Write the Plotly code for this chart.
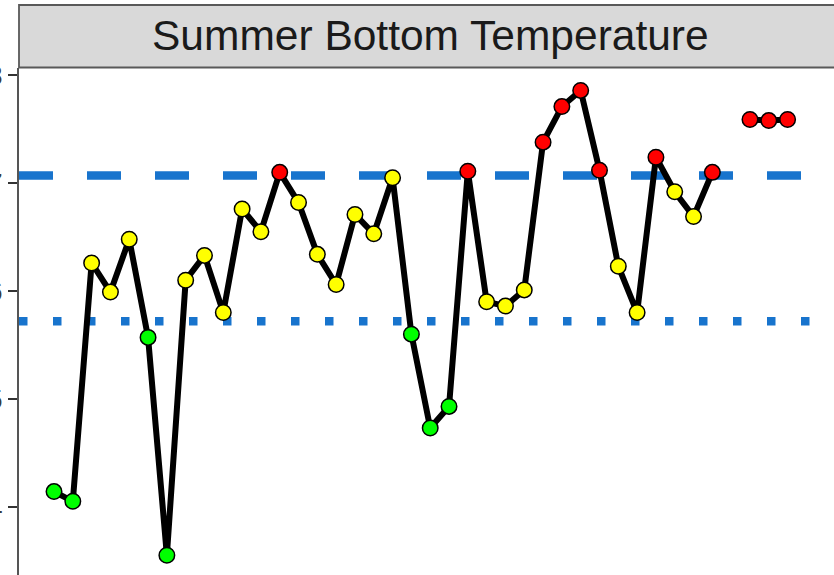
import plotly.graph_objects as go

# ---- data ----
years = list(range(1984, 2024))
temps = [4.14, 4.05, 6.26, 5.99, 6.48, 5.57, 3.55, 6.10, 6.33, 5.80,
         6.76, 6.55, 7.10, 6.82, 6.34, 6.06, 6.71, 6.53, 7.05, 5.60,
         4.73, 4.93, 7.11, 5.90, 5.86, 6.01, 7.38, 7.71, 7.86, 7.12,
         6.23, 5.80, 7.24, 6.92, 6.69, 7.10, None, 7.59, 7.58, 7.59]
upper_ref = 7.07   # dashed line
lower_ref = 5.72   # dotted line
ytick_vals = [4, 5, 6, 7, 8]
ytick_text = ["4", "5", "6", "7", "8"]
strip_title = "Summer Bottom Temperature"

HIGH_COL, MID_COL, LOW_COL = "#FF0000", "#FFFF00", "#00FF00"


def colour(v):
    if v is None:
        return MID_COL
    if v > upper_ref:
        return HIGH_COL
    if v < lower_ref:
        return LOW_COL
    return MID_COL


marker_cols = [colour(v) for v in temps]

W, H = 834, 575
ML, MT = 19, 68
plot_h = H - MT

fig = go.Figure()
fig.add_trace(go.Scatter(
    x=years, y=temps, mode="lines+markers", connectgaps=False,
    line=dict(color="black", width=6),
    marker=dict(size=15.5, color=marker_cols, line=dict(color="black", width=1.5)),
    showlegend=False, hoverinfo="x+y",
))

# reference lines
fig.add_shape(type="line", xref="paper", x0=0, x1=1, yref="y", y0=upper_ref, y1=upper_ref,
              line=dict(color="#1874CD", width=8.5, dash="34px,34px"), layer="below")
fig.add_shape(type="line", xref="paper", x0=0, x1=1, yref="y", y0=lower_ref, y1=lower_ref,
              line=dict(color="#1874CD", width=8.5, dash="8.5px,25.5px"), layer="below")

# facet strip
fig.add_shape(type="rect", xref="paper", yref="paper",
              x0=0, x1=1.05, y0=1 + (MT - 67.5) / plot_h, y1=1 + (MT - 5) / plot_h,
              fillcolor="#D9D9D9", line=dict(color="#595959", width=1.8))
fig.add_annotation(text=strip_title, xref="paper", yref="paper",
                   x=(430 - ML) / (W - ML), y=1 + (MT - 35.5) / plot_h,
                   xanchor="center", yanchor="middle", showarrow=False,
                   font=dict(family="Liberation Sans, Arial, sans-serif", size=42.5, color="#1A1A1A"))

fig.update_layout(
    width=W, height=H, template="none",
    margin=dict(l=ML, r=0, t=MT, b=0, pad=0),
    paper_bgcolor="white", plot_bgcolor="white",
    xaxis=dict(range=[1982.139, 2025.467], showticklabels=False, ticks="",
               showline=False, showgrid=False, zeroline=False, automargin=False),
    yaxis=dict(range=[3.3667, 8.0677], tickvals=ytick_vals, ticktext=ytick_text,
               ticks="outside", ticklen=9, tickwidth=1.6, tickcolor="#333333",
               showline=True, linecolor="#555555", linewidth=1.6,
               showgrid=False, zeroline=False, automargin=False,
               tickfont=dict(family="Liberation Sans, Arial, sans-serif", size=28, color="#3A3A3A")),
)

fig.write_html("out.html", config={"displayModeBar": False},
               post_script="document.body.style.margin='0px';")
